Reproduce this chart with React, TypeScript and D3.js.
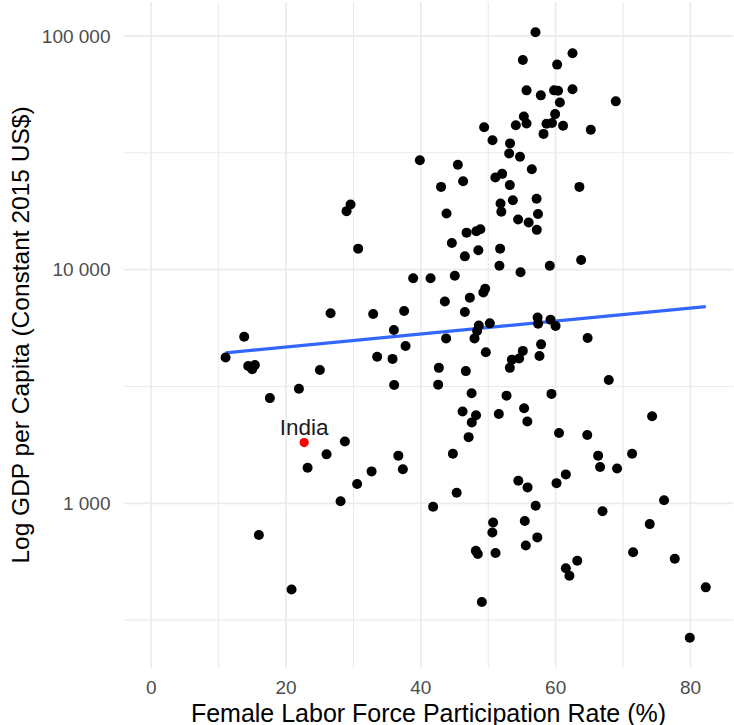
import React from "react";
import * as d3 from "d3";

// Female labour force participation (%) and GDP per capita (constant 2015 US$)
const lfp = [
  57.01, 62.5, 55.13, 60.22, 55.68, 57.8, 59.77, 60.35, 62.5, 60.62,
  68.92, 55.28, 54.09, 55.68, 59.92, 58.64, 59.46, 61.1, 49.39, 65.21,
  58.2, 50.63, 53.23, 53.1, 54.71, 39.85, 45.49, 56.46, 46.27, 43.0,
  51.05, 52.06, 53.2, 63.52, 53.65, 57.17, 51.82, 51.94, 43.81, 57.38,
  54.43, 55.99, 57.2, 29.57, 28.98, 30.7, 46.78, 48.23, 48.83, 44.6,
  46.53, 48.53, 51.76, 51.66, 54.79, 59.13, 63.78, 38.86, 41.44, 45.04,
  49.27, 49.54, 43.56, 47.27, 46.53, 26.61, 32.93, 37.52, 13.79, 11.03,
  36.0, 37.73, 43.75, 48.6, 48.35, 47.96, 50.23, 57.32, 57.4, 59.24,
  59.99, 64.74, 49.64, 55.13, 54.58, 53.5, 53.2, 57.84, 57.6, 14.39,
  14.98, 15.38, 25.02, 33.52, 35.8, 42.67, 46.67, 67.88, 17.6, 21.91,
  36.04, 42.57, 47.53, 52.71, 59.38, 46.19, 48.19, 47.56, 51.57, 55.32,
  55.8, 74.31, 47.09, 60.5, 64.69, 28.73, 26.01, 23.2, 32.69, 36.66,
  37.33, 30.55, 44.75, 66.3, 66.59, 69.11, 71.34, 45.31, 54.46, 55.83,
  60.13, 61.51, 28.09, 41.82, 57.03, 66.95, 76.08, 73.96, 50.72, 50.61,
  55.42, 57.28, 55.57, 51.08, 48.16, 48.45, 71.49, 77.67, 63.21, 61.51,
  62.04, 82.27, 49.05, 79.9, 15.97, 20.82,
];

const gdp = [
  103700, 84300, 78900, 75400, 58500, 55700, 58500, 58300, 59100, 51900,
  52500, 45200, 41500, 42200, 46300, 42100, 42400, 41300, 40700, 39700,
  38100, 35800, 34700, 31400, 30400, 29400, 28100, 26900, 23900, 22600,
  24800, 25700, 23000, 22600, 19800, 20100, 19200, 17700, 17400, 17300,
  16400, 15900, 14800, 19000, 17800, 12300, 14400, 14600, 14900, 13000,
  11400, 12100, 12300, 10400, 9740, 10400, 11000, 9190, 9190, 9410,
  7980, 8280, 7310, 7590, 6590, 6510, 6460, 6650, 5160, 4210,
  5520, 4710, 5080, 5770, 5460, 5080, 5890, 6240, 5870, 6110,
  5740, 5100, 4430, 4490, 4170, 4120, 3800, 4790, 4270, 3870,
  3750, 3910, 3720, 4240, 4150, 3800, 3680, 3370, 2820, 3090,
  3210, 3220, 2960, 2890, 2940, 2470, 2380, 2220, 2410, 2550,
  2240, 2360, 1920, 2000, 1960, 1840, 1620, 1420, 1370, 1600,
  1400, 1210, 1630, 1600, 1430, 1410, 1630, 1110, 1250, 1170,
  1220, 1330, 1020, 967, 977, 925, 1030, 815, 828, 750,
  840, 715, 660, 613, 626, 607, 617, 579, 568, 527,
  490, 437, 378, 266, 732, 428,
];

// Highlighted country
const highlightName = "India";
const highlightLfp = 22.69;
const highlightGdp = 1820;

// Linear fit of log10(GDP) on participation rate
const fitIntercept = 3.6131;
const fitSlope = 0.002781;

const xTicks = [0, 20, 40, 60, 80];
const xMinorTicks = [10, 30, 50, 70];
const yTicks = [1000, 10000, 100000];
const yMinorTicks = [316.23, 3162.3, 31623];

const xTitle = "Female Labor Force Participation Rate (%)";
const yTitle = "Log GDP per Capita (Constant 2015 US$)";

const W = 734;
const H = 725;
const panel = { left: 123.5, right: 733.5, top: 2, bottom: 668 };
const FONT = "'Liberation Sans', Arial, Helvetica, sans-serif";
const GRID = "#EBEBEB";

const fmt = d3
  .formatLocale({ decimal: ".", thousands: " ", grouping: [3], currency: ["$", ""] })
  .format(",");

export default function App() {
  const allX = [...lfp, highlightLfp];
  const allY = [...gdp, highlightGdp];

  const xMin = Math.min(0, d3.min(allX) as number);
  const xMax = d3.max(allX) as number;
  const xPad = (xMax - xMin) * 0.05;
  const x = d3
    .scaleLinear()
    .domain([xMin - xPad, xMax + xPad])
    .range([panel.left, panel.right]);

  const lo = Math.log10(d3.min(allY) as number);
  const hi = Math.log10(d3.max(allY) as number);
  const yPad = (hi - lo) * 0.05;
  const y = d3
    .scaleLog()
    .domain([10 ** (lo - yPad), 10 ** (hi + yPad)])
    .range([panel.bottom, panel.top]);

  const [fx0, fx1] = d3.extent(allX) as [number, number];
  const fitPts: [number, number][] = [fx0, fx1].map((v) => [v, 10 ** (fitIntercept + fitSlope * v)]);
  const fitLine = d3
    .line<[number, number]>()
    .x((d) => x(d[0]))
    .y((d) => y(d[1]))(fitPts) as string;

  const cx = (panel.left + panel.right) / 2;
  const cy = (panel.top + panel.bottom) / 2;

  return (
    <svg
      width={W}
      height={H}
      style={{ position: "absolute", left: 0, top: 0, background: "#fff", fontFamily: FONT }}
    >
      <rect x={0} y={0} width={W} height={H} fill="#fff" />
      {/* grid */}
      <g>
        {yMinorTicks.map((t) => (
          <line key={"ym" + t} x1={panel.left} x2={panel.right} y1={y(t)} y2={y(t)} stroke={GRID} strokeWidth={1.1} />
        ))}
        {xMinorTicks.map((t) => (
          <line key={"xm" + t} x1={x(t)} x2={x(t)} y1={panel.top} y2={panel.bottom} stroke={GRID} strokeWidth={1.1} />
        ))}
        {yTicks.map((t) => (
          <line key={"y" + t} x1={panel.left} x2={panel.right} y1={y(t)} y2={y(t)} stroke={GRID} strokeWidth={1.7} />
        ))}
        {xTicks.map((t) => (
          <line key={"x" + t} x1={x(t)} x2={x(t)} y1={panel.top} y2={panel.bottom} stroke={GRID} strokeWidth={1.7} />
        ))}
      </g>

      {/* fitted line */}
      <path d={fitLine} fill="none" stroke="#3366FF" strokeWidth={3.2} />

      {/* countries */}
      <g fill="#000">
        {lfp.map((v, i) => (
          <circle key={i} cx={x(v)} cy={y(gdp[i])} r={5} />
        ))}
      </g>

      {/* highlighted country */}
      <circle cx={x(highlightLfp)} cy={y(highlightGdp)} r={4.6} fill="#FF0000" />
      <text
        x={x(highlightLfp)}
        y={y(highlightGdp) - 8}
        textAnchor="middle"
        fontSize={22.5}
        fill="#1a1a1a"
      >
        {highlightName}
      </text>

      {/* axis labels */}
      <g fontSize={19} fill="#4D4D4D">
        {yTicks.map((t) => (
          <text key={"yl" + t} x={panel.left - 13} y={y(t)} dy="0.35em" textAnchor="end">
            {fmt(t)}
          </text>
        ))}
        {xTicks.map((t) => (
          <text key={"xl" + t} x={x(t)} y={694} textAnchor="middle">
            {fmt(t)}
          </text>
        ))}
      </g>

      {/* axis titles */}
      <text x={cx} y={721.5} textAnchor="middle" fontSize={25} fill="#000">
        {xTitle}
      </text>
      <text
        transform={`translate(28.5,${cy}) rotate(-90)`}
        textAnchor="middle"
        fontSize={24.5}
        fill="#000"
      >
        {yTitle}
      </text>
    </svg>
  );
}
